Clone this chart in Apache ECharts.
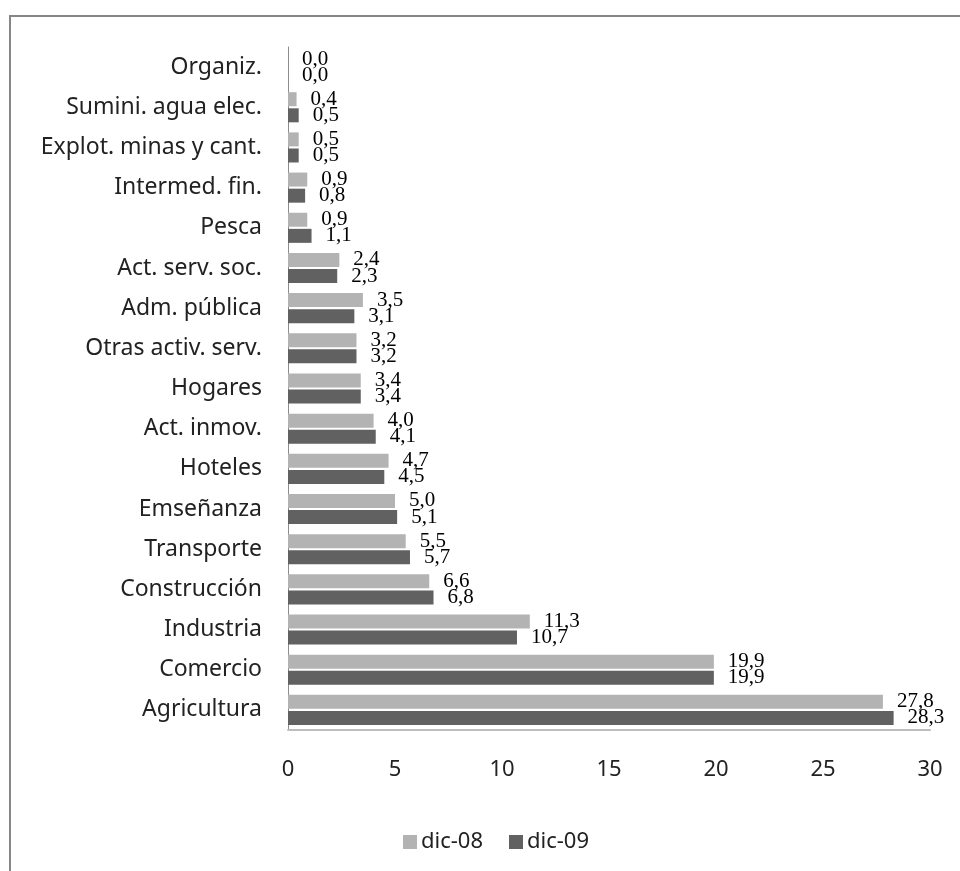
<!DOCTYPE html>
<html lang="es">
<head>
    <meta charset="UTF-8">
    <title>Ocupados por rama de actividad</title>
    <script src="https://cdn.jsdelivr.net/npm/echarts@6/dist/echarts.min.js"></script>
    <style>
        html, body { margin: 0; padding: 0; background: #fff; }
        #chartmain { width: 960px; height: 871px; }
    </style>
</head>
<body>
<div id="chartmain"></div>
<script>
    // categorias de arriba hacia abajo
    var categorias = ['Organiz.', 'Sumini. agua elec.', 'Explot. minas y cant.', 'Intermed. fin.', 'Pesca',
        'Act. serv. soc.', 'Adm. pública', 'Otras activ. serv.', 'Hogares', 'Act. inmov.', 'Hoteles',
        'Emseñanza', 'Transporte', 'Construcción', 'Industria', 'Comercio', 'Agricultura'];
    var dic08 = [0.0, 0.4, 0.5, 0.9, 0.9, 2.4, 3.5, 3.2, 3.4, 4.0, 4.7, 5.0, 5.5, 6.6, 11.3, 19.9, 27.8];
    var dic09 = [0.0, 0.5, 0.5, 0.8, 1.1, 2.3, 3.1, 3.2, 3.4, 4.1, 4.5, 5.1, 5.7, 6.8, 10.7, 19.9, 28.3];
    var ticks = [0, 5, 10, 15, 20, 25, 30];

    var etiqueta = {
        show: true,
        position: 'right',
        distance: 14,
        color: '#000',
        fontFamily: 'Liberation Serif',
        fontSize: 21,
        lineHeight: 16,
        formatter: function (p) { return p.value.toFixed(1).replace('.', ','); }
    };

    var option = {
        animation: false,
        graphic: [{
            type: 'rect',
            shape: { x: 10, y: 16, width: 970, height: 880 },
            style: { fill: 'none', stroke: '#868686', lineWidth: 2 }
        }],
        grid: { left: 288, right: 30, top: 47, bottom: 141 },
        legend: {
            data: ['dic-08', 'dic-09'],
            left: 398, top: 826,
            itemWidth: 14, itemHeight: 14, itemGap: 26,
            icon: 'rect',
            textStyle: { fontFamily: 'Noto Sans', fontSize: 22, color: '#222', padding: [0, 0, 0, -1] }
        },
        xAxis: {
            type: 'value',
            min: ticks[0], max: ticks[ticks.length - 1], interval: 5,
            splitLine: { show: false },
            axisLine: { show: true, lineStyle: { color: '#bdbdbd', width: 2 } },
            axisTick: { show: false },
            axisLabel: { margin: 29, fontFamily: 'Noto Sans', fontSize: 22, color: '#222' }
        },
        yAxis: {
            type: 'category',
            inverse: true,
            data: categorias,
            axisLine: { show: true, lineStyle: { color: '#8c8c8c', width: 1 } },
            axisTick: { show: false },
            axisLabel: { margin: 26, fontFamily: 'Noto Sans', fontSize: 23, color: '#222' }
        },
        series: [
            { name: 'dic-08', type: 'bar', data: dic08, barWidth: 14, barGap: '15%',
              itemStyle: { color: '#b3b3b3' }, label: etiqueta },
            { name: 'dic-09', type: 'bar', data: dic09, barWidth: 14, barGap: '15%',
              itemStyle: { color: '#616161' }, label: etiqueta }
        ]
    };

    var myChart = echarts.init(document.getElementById('chartmain'));
    myChart.setOption(option);
</script>
</body>
</html>
